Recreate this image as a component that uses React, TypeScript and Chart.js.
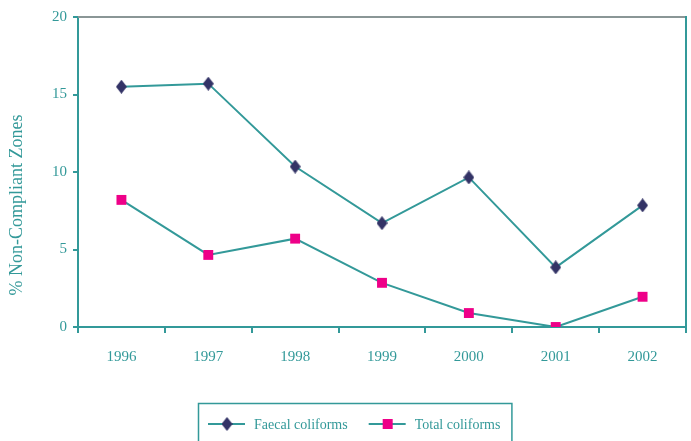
import React, { useEffect, useRef } from "react";
import { Chart, registerables } from "chart.js";

Chart.register(...registerables);

const years = ["1996", "1997", "1998", "1999", "2000", "2001", "2002"];
const faecalColiforms = [15.5, 15.7, 10.35, 6.7, 9.65, 3.85, 7.85];
const totalColiforms = [8.2, 4.65, 5.7, 2.85, 0.9, 0.0, 1.95];
const seriesNames = ["Faecal coliforms", "Total coliforms"];
const yTitle = "% Non-Compliant Zones";

const TEAL = "#339999";
const NAVY = "#333366";
const PINK = "#EE0088";
const GRAY = "#8A9696";
const FONT = "'Liberation Serif', 'Times New Roman', serif";

function makeDiamond(): HTMLCanvasElement {
  const c = document.createElement("canvas");
  c.width = 11;
  c.height = 14;
  const ctx = c.getContext("2d")!;
  ctx.fillStyle = NAVY;
  ctx.beginPath();
  ctx.moveTo(5.5, 0);
  ctx.lineTo(11, 7);
  ctx.lineTo(5.5, 14);
  ctx.lineTo(0, 7);
  ctx.closePath();
  ctx.fill();
  return c;
}

export default function App() {
  const ref = useRef<HTMLCanvasElement | null>(null);

  useEffect(() => {
    document.body.style.margin = "0";
    const diamond = makeDiamond();

    const framePlugin = {
      id: "frame",
      afterDraw(chart: any) {
        const { ctx, chartArea } = chart;
        const { left, right, top, bottom } = chartArea;
        ctx.save();
        ctx.lineWidth = 2;
        ctx.strokeStyle = GRAY;
        ctx.beginPath();
        ctx.moveTo(left, top);
        ctx.lineTo(right, top);
        ctx.stroke();
        ctx.strokeStyle = TEAL;
        ctx.beginPath();
        ctx.moveTo(right, top - 1);
        ctx.lineTo(right, bottom);
        ctx.stroke();

        // y-axis title
        ctx.save();
        ctx.translate(17, 205);
        ctx.rotate(-Math.PI / 2);
        ctx.font = `18px ${FONT}`;
        ctx.fillStyle = TEAL;
        ctx.textAlign = "center";
        ctx.textBaseline = "middle";
        ctx.fillText(yTitle, 0, 0);
        ctx.restore();

        // legend
        ctx.font = `14px ${FONT}`;
        ctx.textBaseline = "middle";
        const boxLeft = 198;
        const boxTop = 403;
        const cy = 424;
        let x = boxLeft + 10;
        const items = [
          { name: seriesNames[0], marker: "diamond" },
          { name: seriesNames[1], marker: "square" },
        ];
        items.forEach((it, i) => {
          ctx.strokeStyle = TEAL;
          ctx.lineWidth = 2;
          ctx.beginPath();
          ctx.moveTo(x, cy);
          ctx.lineTo(x + 37, cy);
          ctx.stroke();
          const mx = x + 19;
          if (it.marker === "diamond") {
            ctx.drawImage(diamond, mx - 5.5, cy - 7);
          } else {
            ctx.fillStyle = PINK;
            ctx.fillRect(mx - 5, cy - 5, 10, 10);
          }
          ctx.fillStyle = TEAL;
          ctx.textAlign = "left";
          const tx = x + 46;
          ctx.fillText(it.name, tx, cy + 1);
          const w = ctx.measureText(it.name).width;
          x = tx + w + 21;
          if (i === items.length - 1) {
            const boxRight = tx + w + 11;
            ctx.lineWidth = 1.5;
            ctx.strokeStyle = TEAL;
            ctx.strokeRect(boxLeft + 0.5, boxTop + 0.5, boxRight - boxLeft, 60);
          }
        });
        ctx.restore();
      },
    };

    const chart = new Chart(ref.current!, {
      type: "line",
      data: {
        labels: years,
        datasets: [
          {
            label: seriesNames[0],
            data: faecalColiforms,
            borderColor: TEAL,
            borderWidth: 2,
            pointStyle: diamond as any,
            pointRadius: 6,
            backgroundColor: NAVY,
            tension: 0,
          },
          {
            label: seriesNames[1],
            data: totalColiforms,
            borderColor: TEAL,
            borderWidth: 2,
            pointStyle: "rect",
            pointRadius: 7,
            pointBorderWidth: 0,
            pointBackgroundColor: PINK,
            pointBorderColor: PINK,
            tension: 0,
          },
        ],
      },
      options: {
        animation: false,
        responsive: false,
        maintainAspectRatio: false,
        layout: {
          autoPadding: false,
          padding: { top: 17, right: 5, left: 0, bottom: 74 },
        },
        plugins: {
          legend: { display: false },
          tooltip: { enabled: false },
        },
        scales: {
          x: {
            type: "category",
            offset: true,
            grid: {
              offset: true,
              drawOnChartArea: false,
              drawTicks: true,
              tickLength: 6,
              color: TEAL,
              lineWidth: 2,
            },
            border: { color: TEAL, width: 2 },
            ticks: {
              color: TEAL,
              padding: 15,
              font: { family: FONT, size: 15 },
              maxRotation: 0,
            },
            afterFit(scale: any) {
              scale.height = 40;
              scale.paddingLeft = 0;
              scale.paddingRight = 0;
            },
          },
          y: {
            min: 0,
            max: 20,
            ticks: {
              stepSize: 5,
              color: TEAL,
              padding: 6,
              font: { family: FONT, size: 15 },
            },
            grid: {
              drawOnChartArea: false,
              drawTicks: true,
              tickLength: 5,
              color: TEAL,
              lineWidth: 2,
            },
            border: { color: TEAL, width: 2 },
            title: { display: false },
            afterFit(scale: any) {
              scale.width = 78;
            },
          },
        },
      },
      plugins: [framePlugin],
    });
    return () => chart.destroy();
  }, []);

  return (
    <div style={{ width: 691, height: 441 }}>
      <canvas ref={ref} width={691} height={441} style={{ display: "block" }} />
    </div>
  );
}
